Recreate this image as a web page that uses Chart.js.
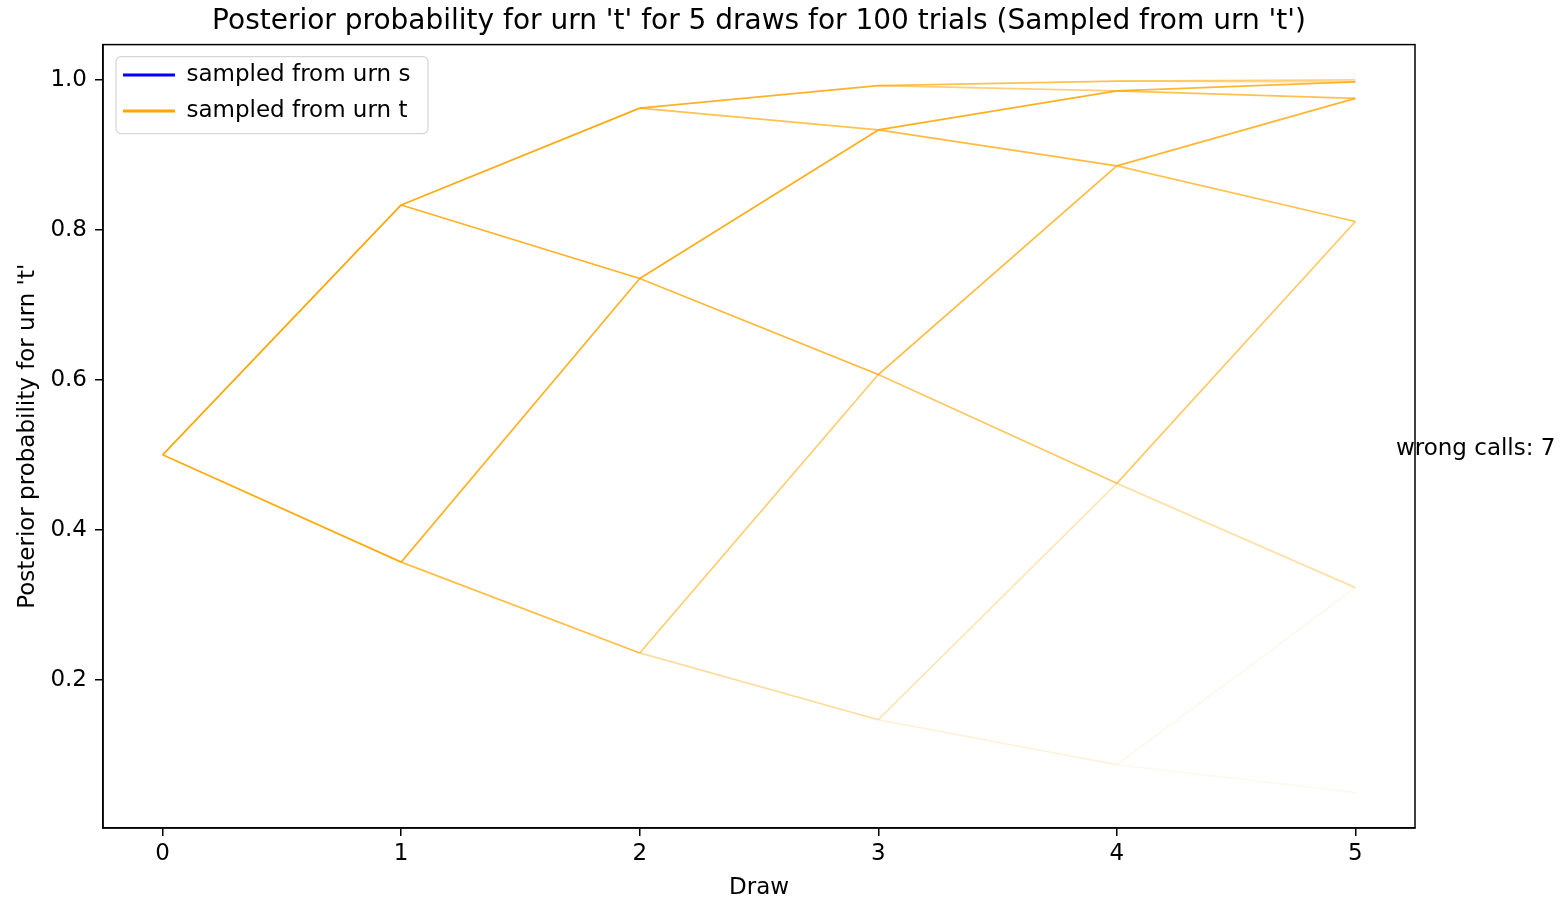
<!DOCTYPE html>
<html>
<head>
<meta charset="utf-8">
<script src="https://cdn.jsdelivr.net/npm/chart.js@4/dist/chart.umd.min.js"></script>
<style>
  html, body { margin: 0; padding: 0; background: #fff; }
  #wrap { width: 1568px; height: 899px; }
</style>
</head>
<body>
<div id="wrap"><canvas id="c" width="1568" height="899"></canvas></div>
<script>
// ---- data ----
const draws = [0, 1, 2, 3, 4, 5];
// posterior probability for urn 't' at each lattice node, per draw (lowest to highest)
const posterior0 = [0.5];
const posterior1 = [0.357, 0.833];
const posterior2 = [0.236, 0.735, 0.962];
const posterior3 = [0.147, 0.607, 0.933, 0.992];
const posterior4 = [0.087, 0.462, 0.885, 0.985, 0.998];
const posterior5 = [0.050, 0.323, 0.811, 0.975, 0.997, 0.9997];
// estimated number of trials leaving each node with an 'up' / 'down' step
const upTrials   = [[61], [23, 37], [10, 28, 23], [4, 17, 25, 14], [1, 11, 20, 20, 8]];
const downTrials = [[39], [16, 24], [6, 19, 14], [2, 12, 17, 9], [1, 5, 14, 14, 6]];
const wrongCalls = 7;
const xTickValues = [0, 1, 2, 3, 4, 5];
const yTickValues = [0.2, 0.4, 0.6, 0.8, 1.0];
const legendLabels = ['sampled from urn s', 'sampled from urn t'];

// ---- build datasets ----
const posteriors = [posterior0, posterior1, posterior2, posterior3, posterior4, posterior5];
const LINE_ALPHA = 0.08;
function edgeColor(n) {
  const a = 1 - Math.pow(1 - LINE_ALPHA, n);
  return 'rgba(255,165,0,' + a.toFixed(3) + ')';
}
const datasets = [];
for (let d = 0; d < draws.length - 1; d++) {
  const from = posteriors[d], to = posteriors[d + 1];
  for (let k = 0; k < from.length; k++) {
    [[k, downTrials[d][k]], [k + 1, upTrials[d][k]]].forEach(([kk, n]) => {
      datasets.push({
        data: [{x: draws[d], y: from[k]}, {x: draws[d + 1], y: to[kk]}],
        borderColor: edgeColor(n),
        borderWidth: 1.7,
        pointRadius: 0,
        fill: false,
        tension: 0
      });
    });
  }
}

const FONT = "'DejaVu Sans', sans-serif";
Chart.defaults.font.family = FONT;
Chart.defaults.color = '#000';

const framePlugin = {
  id: 'frame',
  beforeDraw(chart) {
    const ca = chart.chartArea, ctx = chart.ctx;
    if (chart.legend) {
      const lg = chart.legend;
      const w = lg.width, h = lg.height;
      lg.left = ca.left + 7; lg.top = ca.top + 6;
      lg.right = lg.left + w; lg.bottom = lg.top + h;
    }
    ctx.save();
    const x = ca.left + 13, y = ca.top + 12, w = 312, h = 77, r = 5;
    ctx.beginPath();
    ctx.moveTo(x + r, y);
    ctx.arcTo(x + w, y, x + w, y + h, r);
    ctx.arcTo(x + w, y + h, x, y + h, r);
    ctx.arcTo(x, y + h, x, y, r);
    ctx.arcTo(x, y, x + w, y, r);
    ctx.closePath();
    ctx.fillStyle = 'rgba(255,255,255,0.8)';
    ctx.fill();
    ctx.strokeStyle = '#d6d6d6';
    ctx.lineWidth = 1.2;
    ctx.stroke();
    ctx.restore();
  },
  afterDraw(chart) {
    const ca = chart.chartArea, ctx = chart.ctx;
    ctx.save();
    ctx.strokeStyle = '#000';
    ctx.lineWidth = 1.5;
    ctx.strokeRect(ca.left, ca.top, ca.right - ca.left, ca.bottom - ca.top);
    ctx.font = '23px ' + FONT;
    ctx.fillStyle = '#000';
    ctx.textBaseline = 'alphabetic';
    ctx.textAlign = 'left';
    const xs = chart.scales.x, ys = chart.scales.y;
    ctx.fillText('wrong calls: ' + wrongCalls, xs.getPixelForValue(5.17), ys.getPixelForValue(0.5));
    ctx.restore();
  }
};

new Chart(document.getElementById('c'), {
  type: 'line',
  data: { datasets },
  plugins: [framePlugin],
  options: {
    responsive: false,
    animation: false,
    layout: { padding: { left: 0, right: 153, top: 0, bottom: 0 } },
    plugins: {
      title: {
        display: true,
        fullSize: false,
        text: "Posterior probability for urn 't' for 5 draws for 100 trials (Sampled from urn 't')",
        font: { size: 28, weight: 'normal', family: FONT },
        color: '#000',
        padding: { top: 5, bottom: 6 }
      },
      legend: {
        display: true,
        position: 'chartArea',
        align: 'start',
        labels: {
          font: { size: 23, family: FONT },
          color: '#000',
          boxWidth: 52,
          boxHeight: 3,
          padding: 13,
          generateLabels: () => [
            { text: legendLabels[0], fillStyle: '#0000ff', strokeStyle: '#0000ff', lineWidth: 0, hidden: false, datasetIndex: -1 },
            { text: legendLabels[1], fillStyle: '#ffa500', strokeStyle: '#ffa500', lineWidth: 0, hidden: false, datasetIndex: -2 }
          ]
        },
        onClick: () => {}
      },
      tooltip: { enabled: false }
    },
    scales: {
      x: {
        type: 'linear',
        min: -0.25,
        max: 5.25,
        afterBuildTicks: (s) => { s.ticks = xTickValues.map(v => ({ value: v })); },
        afterFit: (s) => { s.height = 71; },
        ticks: { font: { size: 23, family: FONT }, color: '#000', padding: 4, callback: (v) => String(v) },
        grid: { display: true, drawOnChartArea: false, drawTicks: true, tickLength: 8, color: '#000', lineWidth: 1.5 },
        border: { display: true, color: '#000', width: 1.5 },
        title: { display: true, text: 'Draw', font: { size: 23, family: FONT }, color: '#000', padding: { top: 0, bottom: -3 } }
      },
      y: {
        type: 'linear',
        min: 0.0027,
        max: 1.0467,
        afterBuildTicks: (s) => { s.ticks = yTickValues.map(v => ({ value: v })); },
        afterFit: (s) => { s.width = 103; },
        ticks: { font: { size: 23, family: FONT }, color: '#000', padding: 8, callback: (v) => Number(v).toFixed(1) },
        grid: { display: true, drawOnChartArea: false, drawTicks: true, tickLength: 8, color: '#000', lineWidth: 1.5 },
        border: { display: true, color: '#000', width: 1.5 },
        title: { display: true, text: "Posterior probability for urn 't'", font: { size: 23, family: FONT }, color: '#000', padding: { top: 14, bottom: 0 } }
      }
    }
  }
});
</script>
</body>
</html>
